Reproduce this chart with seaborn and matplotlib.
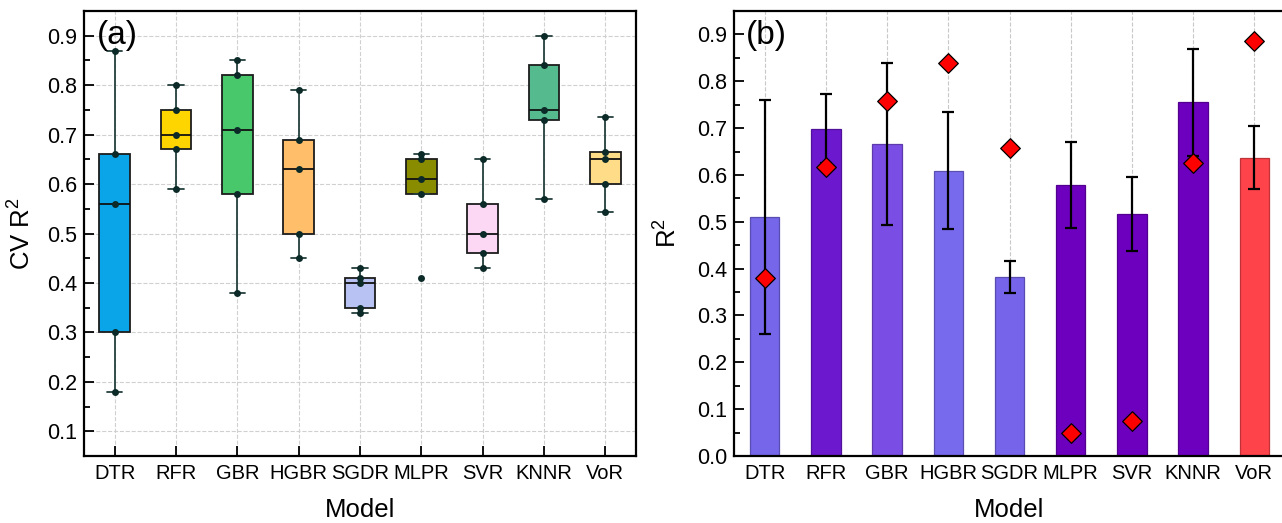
"""CV R2 boxplots (a) and mean CV R2 bars with test R2 markers (b)."""

import matplotlib

matplotlib.use("Agg")
import matplotlib.pyplot as plt
import matplotlib.colors as mcolors
import pandas as pd
import seaborn as sns
from matplotlib.ticker import FormatStrFormatter, MultipleLocator

models = ["DTR", "RFR", "GBR", "HGBR", "SGDR", "MLPR", "SVR", "KNNR", "VoR"]

# (a) five-fold CV R2 scores
cv_dtr = [0.87, 0.66, 0.56, 0.30, 0.18]
cv_rfr = [0.80, 0.75, 0.70, 0.67, 0.59]
cv_gbr = [0.85, 0.82, 0.71, 0.58, 0.38]
cv_hgbr = [0.79, 0.69, 0.63, 0.50, 0.45]
cv_sgdr = [0.43, 0.41, 0.40, 0.35, 0.34]
cv_mlpr = [0.66, 0.65, 0.61, 0.58, 0.41]
cv_svr = [0.65, 0.56, 0.50, 0.46, 0.43]
cv_knnr = [0.90, 0.84, 0.75, 0.73, 0.57]
cv_vor = [0.735, 0.665, 0.65, 0.60, 0.543]
box_colors = ["#0AA5E9", "#FFD500", "#48C76B", "#FFBE6A", "#B8C3F3",
              "#8A8C00", "#FCD8F5", "#55BB8F", "#FFDC88"]

# (b) mean / std of CV R2 and test R2
cv_mean = [0.510, 0.699, 0.666, 0.609, 0.382, 0.579, 0.516, 0.755, 0.637]
cv_std = [0.250, 0.073, 0.173, 0.125, 0.035, 0.092, 0.079, 0.114, 0.067]
test_r2 = [0.379, 0.618, 0.758, 0.839, 0.657, 0.049, 0.075, 0.626, 0.887]
bar_colors = ["#7566EA", "#6C18CE", "#7A4DE5", "#786AEC", "#7665EA",
              "#6D00BF", "#6D00BF", "#6D00BF", "#FF434A"]

sns.set_style("ticks")
plt.rcParams["font.family"] = ["Liberation Sans", "DejaVu Sans"]
plt.rcParams["mathtext.fontset"] = "custom"
plt.rcParams["mathtext.rm"] = "Liberation Sans"
plt.rcParams["mathtext.default"] = "rm"
plt.rcParams["text.color"] = "black"
plt.rcParams["axes.labelcolor"] = "black"

scores = [cv_dtr, cv_rfr, cv_gbr, cv_hgbr, cv_sgdr, cv_mlpr, cv_svr, cv_knnr, cv_vor]
df_cv = pd.DataFrame(
    [(m, v) for m, vals in zip(models, scores) for v in vals],
    columns=["Model", "score"],
)

W, H = 1282, 523
fig = plt.figure(figsize=(W / 100, H / 100), dpi=100)
ax1 = fig.add_axes([84 / W, 67 / H, 552 / W, 445 / H])
ax2 = fig.add_axes([734 / W, 67 / H, 551 / W, 445 / H])


def style_axis(ax, ylo, yhi):
    ax.set_xlim(-0.5, 8.5)
    ax.set_ylim(ylo, yhi)
    ax.yaxis.set_major_locator(MultipleLocator(0.1))
    ax.yaxis.set_minor_locator(MultipleLocator(0.05))
    ax.yaxis.set_major_formatter(FormatStrFormatter("%.1f"))
    ax.tick_params(which="both", direction="in", width=1.3,
                   colors="black", pad=5)
    ax.tick_params(axis="y", labelsize=15.5)
    ax.tick_params(axis="x", labelsize=14.5, pad=6)
    ax.tick_params(which="major", length=7)
    ax.tick_params(which="minor", length=4)
    ax.tick_params(axis="x", which="minor", length=0)
    for s in ax.spines.values():
        s.set_visible(True)
        s.set_linewidth(1.6)
        s.set_color("black")
    ax.set_axisbelow(True)


# (a) boxplots
sns.boxplot(data=df_cv, x="Model", y="score", hue="Model", palette=box_colors,
            legend=False, width=0.5, showfliers=False, linecolor="#1c1c1c",
            linewidth=1.3, saturation=1,
            whiskerprops={"color": "#24403e", "linewidth": 1.3},
            capprops={"color": "#24403e", "linewidth": 1.3},
            medianprops={"color": "#111111", "linewidth": 1.3}, ax=ax1)
sns.stripplot(data=df_cv, x="Model", y="score", color="#0b2a28", size=5,
              jitter=False, ax=ax1, zorder=5)
style_axis(ax1, 0.05, 0.95)
ax1.grid(True, which="major", linestyle="--", color="#d0d0d0", linewidth=0.8)
ax1.set_xlabel("Model", fontsize=18.5)
ax1.set_ylabel("CV R$^2$", fontsize=18.5)
ax1.xaxis.set_label_coords(0.5, -0.094)
ax1.yaxis.set_label_coords(-0.088, 0.5)
ax1.text(0.024, 0.98, "(a)", transform=ax1.transAxes, fontsize=24,
         ha="left", va="top")

# (b) bars with error bars and test R2 diamonds
sns.barplot(x=models, y=cv_mean, hue=models, palette=bar_colors, legend=False,
            width=0.48, saturation=1, linewidth=0.9, ax=ax2)
for patch in ax2.patches:
    fc = mcolors.to_rgb(patch.get_facecolor())
    patch.set_edgecolor(tuple(c * 0.75 for c in fc))
ax2.errorbar(range(len(models)), cv_mean, yerr=cv_std, fmt="none",
             ecolor="black", elinewidth=1.6, capsize=4, capthick=1.6, zorder=3)
sns.stripplot(x=models, y=test_r2, marker="D", color="#FF0000",
              edgecolor="black", linewidth=0.9, size=10, jitter=False,
              ax=ax2, zorder=4)
style_axis(ax2, 0.0, 0.95)
ax2.grid(True, axis="x", which="major", linestyle="--", color="#c8c8c8",
         linewidth=0.8)
ax2.set_xlabel("Model", fontsize=18.5)
ax2.set_ylabel("R$^2$", fontsize=18.5)
ax2.xaxis.set_label_coords(0.5, -0.094)
ax2.yaxis.set_label_coords(-0.095, 0.5)
ax2.text(0.022, 0.98, "(b)", transform=ax2.transAxes, fontsize=24,
         ha="left", va="top")

fig.savefig("out.png", dpi=100)
plt.close(fig)
